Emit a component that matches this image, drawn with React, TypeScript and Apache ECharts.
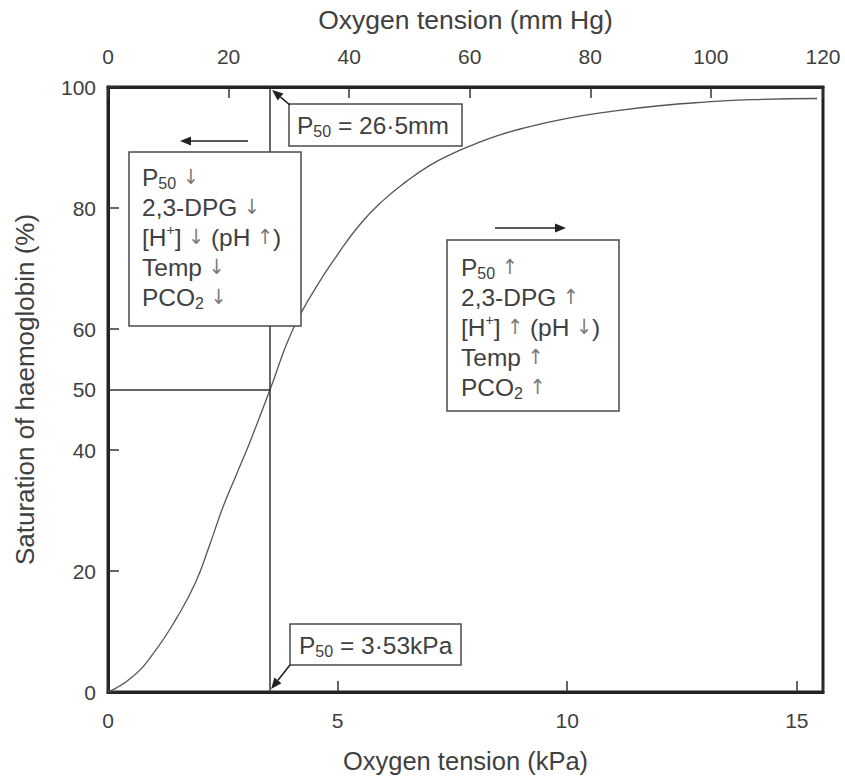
import React, { useEffect, useRef } from 'react';
import * as echarts from 'echarts';

// Oxygen–haemoglobin dissociation curve
const kPaValues = [0, 0.5, 1.0, 1.5, 1.9, 2.2, 2.5, 2.8, 3.1, 3.53, 4.0, 4.5, 5.0, 5.5, 6.0, 6.5, 7.0, 7.5, 8.0, 8.5, 9.0, 10.0, 11.0, 12.0, 13.0, 14.0, 15.44];
const saturation = [0, 2.3, 6.5, 12.3, 18, 24, 30.5, 36, 41.5, 50, 59.5, 66.5, 72.3, 77.4, 81.3, 84.4, 87.0, 89.0, 90.6, 92.0, 93.1, 94.8, 96.0, 96.9, 97.5, 97.9, 98.1];

const p50kPa = 3.53;
const p50Sat = 50;
const kPaMax = 15.57;
const mmHgMax = 118.6;
const yLabelValues = [0, 20, 40, 50, 60, 80, 100];
const yTickValues = [0, 20, 40, 60, 80, 100];

const leftBoxLines = [
  '{t|P}{sub|50}{t| }{ar|↓}',
  '{t|2,3-DPG }{ar|↓}',
  '{t|[H}{sup|+}{t|] }{ar|↓}{t| (pH }{ar|↑}{t|)}',
  '{t|Temp }{ar|↓}',
  '{t|PCO}{sub|2}{t| }{ar|↓}',
];
const rightBoxLines = [
  '{t|P}{sub|50}{t| }{ar|↑}',
  '{t|2,3-DPG }{ar|↑}',
  '{t|[H}{sup|+}{t|] }{ar|↑}{t| (pH }{ar|↓}{t|)}',
  '{t|Temp }{ar|↑}',
  '{t|PCO}{sub|2}{t| }{ar|↑}',
];
const p50mmLabel = '{t|P}{sub|50}{t| = 26·5mm}';
const p50kPaLabel = '{t|P}{sub|50}{t| = 3·53kPa}';

const FONT = '"Liberation Sans", Arial, Helvetica, sans-serif';
const ARROW_FONT = '"DejaVu Sans Condensed", "DejaVu Sans", sans-serif';
const TEXT = '#404040';

const LH = 30;
const rich = {
  t: { fontSize: 24.5, fontFamily: FONT, fill: TEXT, lineHeight: LH },
  sub: { fontSize: 16, fontFamily: FONT, fill: TEXT, lineHeight: LH, padding: [12, 0, 0, 0] },
  sup: { fontSize: 14, fontFamily: FONT, fill: TEXT, lineHeight: LH, padding: [0, 0, 14, 0] },
  ar: { fontSize: 21, fontFamily: ARROW_FONT, fill: '#7a7a7a', lineHeight: LH },
};

function arrow(x1: number, y1: number, x2: number, y2: number, head = 11, half = 4.5) {
  const dx = x2 - x1;
  const dy = y2 - y1;
  const len = Math.sqrt(dx * dx + dy * dy);
  const ux = dx / len;
  const uy = dy / len;
  const bx = x2 - ux * head;
  const by = y2 - uy * head;
  const px = -uy;
  const py = ux;
  return [
    {
      type: 'line',
      z: 100,
      shape: { x1, y1, x2: bx, y2: by },
      style: { stroke: '#222', lineWidth: 1.6 },
    },
    {
      type: 'polygon',
      z: 100,
      shape: {
        points: [
          [x2, y2],
          [bx + px * half, by + py * half],
          [bx - px * half, by - py * half],
        ],
      },
      style: { fill: '#222' },
    },
  ];
}

function box(x: number, y: number, w: number, h: number) {
  return {
    type: 'rect',
    z: 90,
    shape: { x, y, width: w, height: h },
    style: { fill: '#fff', stroke: '#4a4a4a', lineWidth: 1.5 },
  };
}

function richText(x: number, y: number, text: string, verticalAlign = 'top') {
  return {
    type: 'text',
    z: 100,
    x,
    y,
    style: {
      text,
      rich,
      fontSize: 24.5,
      fontFamily: FONT,
      fill: TEXT,
      lineHeight: LH,
      align: 'left',
      verticalAlign,
    },
  };
}

export default function App() {
  const ref = useRef<HTMLDivElement>(null);

  useEffect(() => {
    if (!ref.current) return;
    const chart = echarts.init(ref.current, null, { renderer: 'svg' });

    const axisLine = { show: true, onZero: false, lineStyle: { color: '#222', width: 3 } };
    const axisTick = { show: true, inside: true, length: 11, lineStyle: { color: '#333', width: 1.5 } };
    const labelStyle = { fontSize: 21, color: TEXT, fontFamily: FONT };

    chart.setOption({
      animation: false,
      backgroundColor: '#ffffff',
      grid: {
        show: true,
        left: 108,
        right: 22,
        top: 87,
        bottom: 85,
        containLabel: false,
        outerBoundsMode: 'none',
        borderColor: '#222',
        borderWidth: 3,
        backgroundColor: 'transparent',
      },
      xAxis: [
        {
          type: 'value',
          position: 'bottom',
          min: 0,
          max: kPaMax,
          interval: 5,
          axisLine,
          axisTick,
          splitLine: { show: false },
          axisLabel: {
            ...labelStyle,
            margin: 18,
            formatter: (v: number) => (Math.abs(v % 5) < 1e-6 ? String(v) : ''),
          },
          name: 'Oxygen tension (kPa)',
          nameLocation: 'middle',
          nameGap: 56,
          nameTextStyle: { fontSize: 25.5, color: TEXT, fontFamily: FONT },
        },
        {
          type: 'value',
          position: 'top',
          min: 0,
          max: mmHgMax,
          interval: 20,
          axisLine,
          axisTick,
          splitLine: { show: false },
          axisLabel: {
            ...labelStyle,
            margin: 20,
            formatter: (v: number) => (v > 110 ? '120' : String(v)),
          },
          name: 'Oxygen tension (mm Hg)',
          nameLocation: 'middle',
          nameGap: 54,
          nameTextStyle: { fontSize: 26.5, color: TEXT, fontFamily: FONT },
        },
      ],
      yAxis: {
        type: 'value',
        min: 0,
        max: 100,
        interval: 10,
        axisLine,
        axisTick: { ...axisTick, customValues: yTickValues },
        splitLine: { show: false },
        axisLabel: { ...labelStyle, margin: 12, customValues: yLabelValues },
        name: 'Saturation of haemoglobin (%)',
        nameLocation: 'middle',
        nameGap: 70,
        nameTextStyle: { fontSize: 26, color: TEXT, fontFamily: FONT },
      },
      series: [
        {
          type: 'line',
          xAxisIndex: 0,
          yAxisIndex: 0,
          data: kPaValues.map((x, i) => [x, saturation[i]]),
          showSymbol: false,
          smooth: 0.5,
          lineStyle: { color: '#555', width: 1.3 },
          markLine: {
            silent: true,
            symbol: ['none', 'none'],
            label: { show: false },
            lineStyle: { color: '#333', width: 1.5, type: 'solid' },
            data: [
              { xAxis: p50kPa },
              [{ coord: [0, p50Sat] }, { coord: [p50kPa, p50Sat] }],
            ],
          },
        },
      ],
    });

    const tipTop = chart.convertToPixel({ xAxisIndex: 0, yAxisIndex: 0 }, [p50kPa, 100]) as number[];
    const tipBot = chart.convertToPixel({ xAxisIndex: 0, yAxisIndex: 0 }, [p50kPa, 0]) as number[];

    const graphics: any[] = [
      box(289, 104, 173, 42),
      richText(297, 125, p50mmLabel, 'middle'),
      ...arrow(290, 105, tipTop[0] + 2, tipTop[1] + 3),

      box(290, 624, 171, 41),
      richText(299, 645, p50kPaLabel, 'middle'),
      ...arrow(290, 665, tipBot[0] + 1, tipBot[1] - 3),

      ...arrow(248, 141, 180, 141),
      box(129, 152, 172, 174),
      richText(142, 162, leftBoxLines.join('\n')),

      ...arrow(495, 228, 566, 228),
      box(447, 240, 172, 171),
      richText(461, 252, rightBoxLines.join('\n')),
    ];

    chart.setOption({ graphic: graphics });

    return () => chart.dispose();
  }, []);

  return (
    <div
      ref={ref}
      style={{ position: 'absolute', left: 0, top: 0, width: 845, height: 777, background: '#fff' }}
    />
  );
}
